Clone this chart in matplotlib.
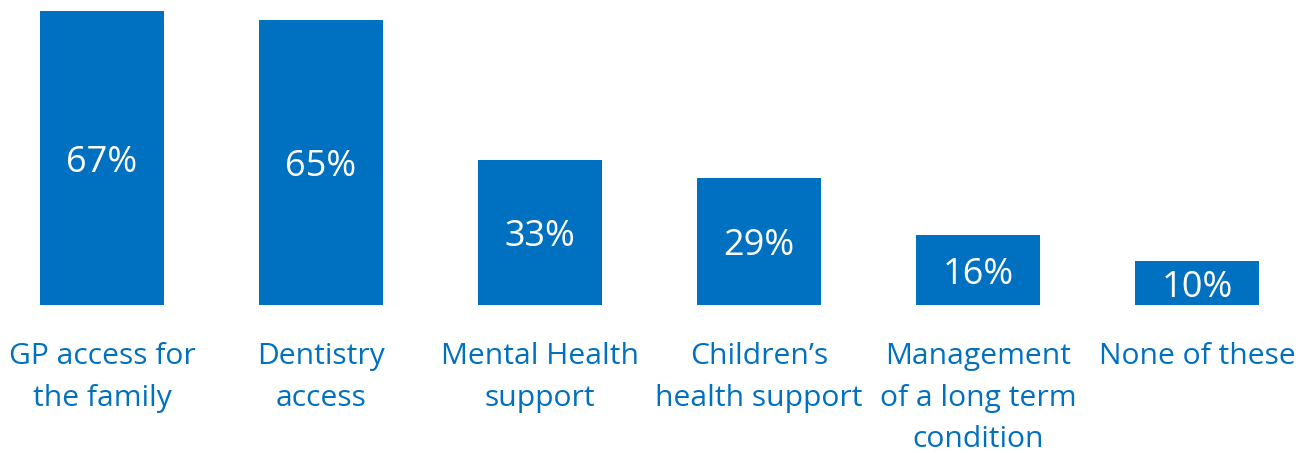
import numpy as np
import matplotlib.pyplot as plt

categories = ['GP access for\nthe family', 'Dentistry\naccess', 'Mental Health\nsupport',
              'Children\u2019s\nhealth support', 'Management\nof a long term\ncondition', 'None of these']
values = [67, 65, 33, 29, 16, 10]
labels = ['67%', '65%', '33%', '29%', '16%', '10%']

blue = '#0070C0'
plt.rcParams['font.family'] = ['Open Sans', 'DejaVu Sans']

fig = plt.figure(figsize=(13.13, 4.53), dpi=100)
ax = fig.add_axes([0, 0, 1, 1])
x = np.arange(len(values))
ax.bar(x, values, width=0.566, color=blue)

for i, v in enumerate(values):
    ax.text(x[i], v / 2 - 1.1, labels[i], ha='center', va='center', color='white', fontsize=26)
    ax.text(x[i], -8.4, categories[i], ha='center', va='top', color=blue,
            fontsize=21.6, linespacing=1.58)

ax.set_xlim(-0.466, 5.53)
ax.set_ylim(-33.7, 69.5)
ax.axis('off')

plt.savefig('out.png', dpi=100)
